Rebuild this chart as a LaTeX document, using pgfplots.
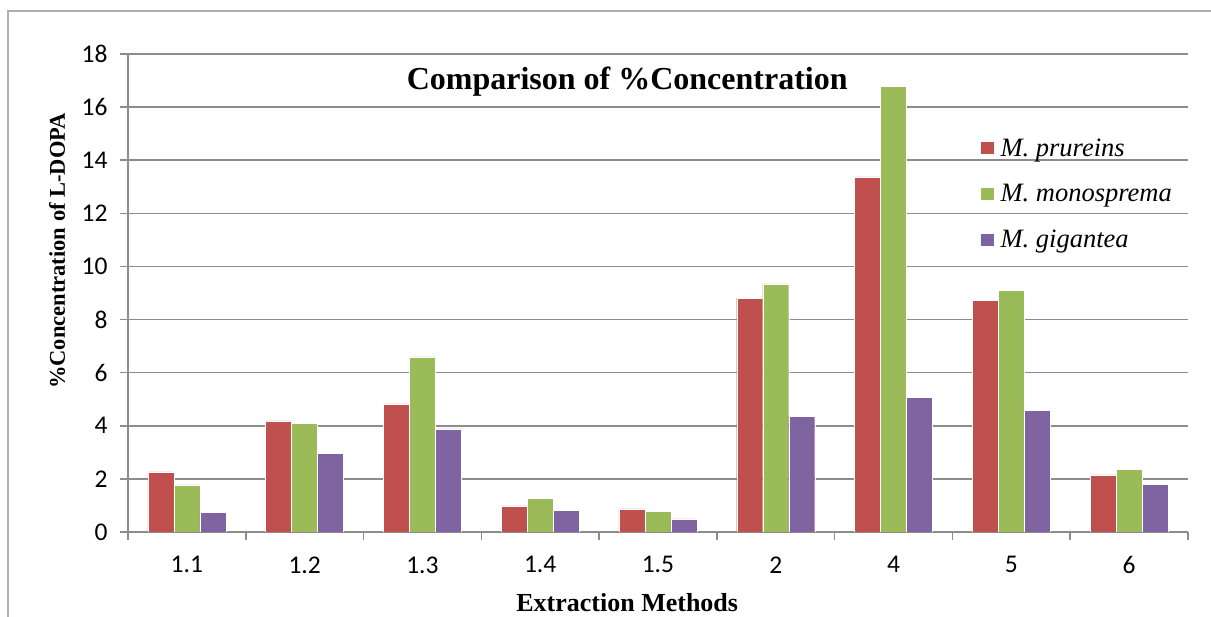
\documentclass[border=0pt]{standalone}
\usepackage{fontspec}
\setmainfont{Carlito}
\newfontfamily\tnr{Liberation Serif}
\usepackage{pgfplots}
\pgfplotsset{compat=1.18}

\definecolor{cred}{HTML}{C0504D}
\definecolor{cgreen}{HTML}{9BBB59}
\definecolor{cpurple}{HTML}{8064A2}
\definecolor{gridgray}{HTML}{8C8C8C}

\begin{document}
\begin{tikzpicture}
\useasboundingbox (0,0) rectangle (1211pt,617pt);
% outer frame (left and top edges only)
\draw[gridgray!70, line width=1.5pt] (8pt,0pt) -- (8pt,606pt) -- (1211pt,606pt);
\begin{axis}[
    at={(128pt,85pt)}, anchor=south west,
    scale only axis,
    width=1060pt, height=478pt,
    ybar=0pt, bar width=26pt,
    xmin=-0.5, xmax=8.5,
    ymin=0, ymax=18,
    ytick={0,2,...,18},
    xtick={0,...,8},
    xticklabels={1.1,1.2,1.3,1.4,1.5,2,4,5,6},
    minor xtick={-0.5,0.5,...,8.5},
    axis lines*=left,
    axis line style={gridgray, line width=1.5pt},
    tick align=outside,
    major tick length=8pt, minor tick length=8pt,
    x tick style={draw=none},
    minor x tick style={draw=gridgray, line width=1.5pt},
    y tick style={gridgray, line width=1.5pt},
    ymajorgrids,
    major grid style={gridgray, line width=1.5pt},
    /pgf/number format/assume math mode=true,
    tick label style={font=\fontsize{25.5}{30}\selectfont},
    yticklabel style={xshift=-9pt},
    xticklabel style={yshift=-13pt},
    xlabel={Extraction Methods},
    ylabel={\%Concentration of L-DOPA},
    xlabel style={font=\tnr\bfseries\fontsize{26}{30}\selectfont, at={(axis description cs:0.471,-0.148)}, anchor=center},
    ylabel style={font=\tnr\bfseries\fontsize{22.5}{26}\selectfont, at={(axis description cs:-0.067,0.588)}, anchor=center},
    title={Comparison of \%Concentration},
    title style={font=\tnr\bfseries\fontsize{32}{36}\selectfont, at={(axis description cs:0.471,0.93)}, anchor=center},
    legend style={draw=none, fill=none, at={(axis description cs:0.801,0.832)}, anchor=north west,
        font=\tnr\itshape\fontsize{26.5}{30}\selectfont, row sep=23pt,
        /tikz/every odd column/.append style={column sep=4pt}},
    legend cell align=left,
    legend image code/.code={\fill[#1] (0pt,-6.5pt) rectangle (14pt,6.5pt);},
    every axis plot/.append style={draw=white, line width=0.4pt},
]
\addplot[fill=cred] coordinates {(0,2.26) (1,4.18) (2,4.82) (3,0.98) (4,0.87) (5,8.81) (6,13.37) (7,8.73) (8,2.15)};
\addplot[fill=cgreen] coordinates {(0,1.77) (1,4.10) (2,6.59) (3,1.27) (4,0.79) (5,9.34) (6,16.79) (7,9.10) (8,2.36)};
\addplot[fill=cpurple] coordinates {(0,0.75) (1,2.96) (2,3.88) (3,0.82) (4,0.49) (5,4.35) (6,5.06) (7,4.58) (8,1.80)};
\legend{M. prureins, M. monosprema, M. gigantea}
\end{axis}
\end{tikzpicture}
\end{document}
